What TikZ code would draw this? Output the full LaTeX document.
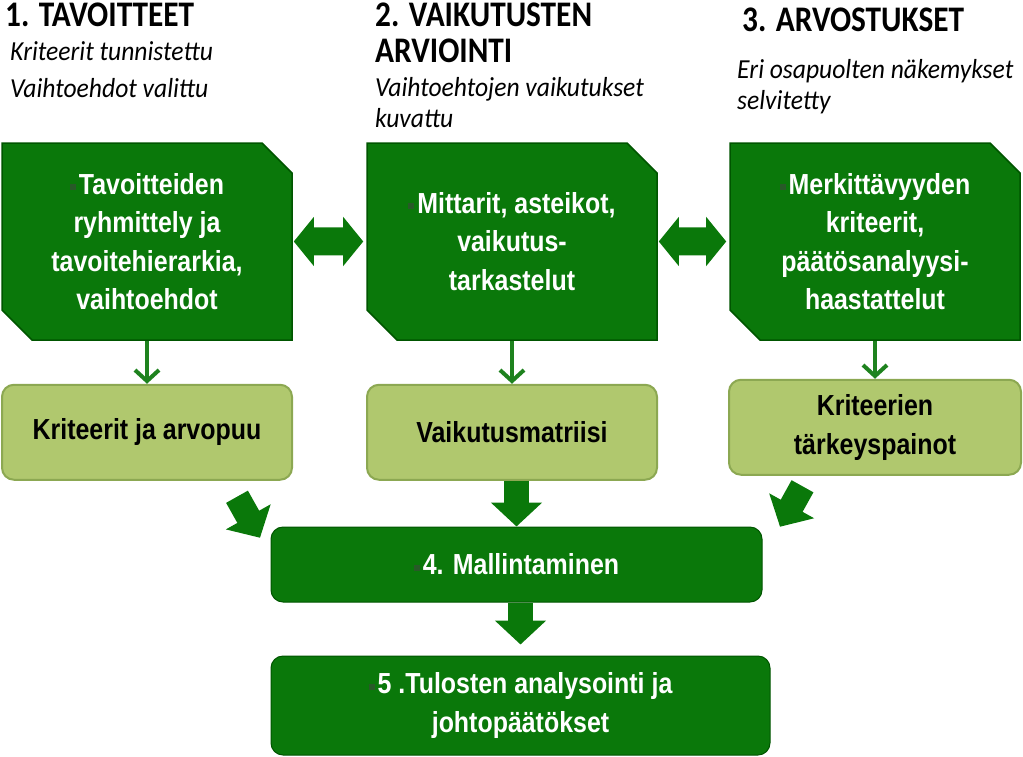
\documentclass[tikz,border=0pt]{standalone}
\usepackage{fontspec}
\setmainfont{Liberation Sans}
\newfontfamily\headfont[FakeStretch=0.87]{Carlito}
\newfontfamily\notefont[FakeStretch=0.93]{Carlito}
\newfontfamily\boxfont[FakeStretch=0.86]{Liberation Sans}
\usetikzlibrary{shapes.misc,arrows.meta,positioning,calc}
\definecolor{fingreen}{RGB}{10,120,10}
\definecolor{fingreendark}{RGB}{0,85,0}
\definecolor{finlight}{RGB}{176,200,110}
\definecolor{finlightdark}{RGB}{140,168,82}
\definecolor{arrowgreen}{RGB}{30,130,30}
\definecolor{dotgreen}{RGB}{40,90,40}
\newcommand{\bulletsq}{{\color{dotgreen}\rule[4pt]{6pt}{6pt}}\hspace{3pt}}

\begin{document}
\begin{tikzpicture}[x=1pt, y=-1pt,
    phase/.style={chamfered rectangle, chamfered rectangle corners={north east, south west},
        chamfered rectangle xsep=15pt, chamfered rectangle ysep=15pt,
        draw=fingreendark, line width=1.5pt, fill=fingreen, text=white,
        minimum width=290pt, minimum height=197pt, align=center, inner sep=0pt,
        font=\boxfont\bfseries\fontsize{29}{38.5}\selectfont},
    outcome/.style={rectangle, rounded corners=12pt, draw=finlightdark, line width=2pt,
        fill=finlight, minimum width=290pt, minimum height=95pt, align=center,
        font=\boxfont\bfseries\fontsize{29}{38.5}\selectfont},
    stage/.style={rectangle, rounded corners=12pt, draw=fingreendark, line width=1pt,
        fill=fingreen, text=white, align=center,
        font=\boxfont\bfseries\fontsize{29}{38.5}\selectfont},
    head/.style={anchor=north west, inner sep=0pt, align=left,
        font=\headfont\bfseries\fontsize{36}{36}\selectfont},
    note/.style={anchor=north west, inner sep=0pt, align=left,
        font=\notefont\itshape\fontsize{27.5}{37}\selectfont},
    arr/.style={-{Straight Barb[length=11pt,width=24pt]}, line width=4pt, arrowgreen},
    fat/.style={-{Triangle[length=24pt,width=50pt]}, line width=25pt, fingreen},
    fatboth/.style={{Triangle[length=20pt,width=48pt]}-{Triangle[length=20pt,width=48pt]},
        line width=28pt, fingreen}
]
    \useasboundingbox (0,0) rectangle (1023,756);

    % Headings
    \node[head] (h1) at (5,3) {1. TAVOITTEET};
    \node[head] (h2) at (375,3) {2. VAIKUTUSTEN\\ARVIOINTI};
    \node[head] (h3) at (742,8) {3. ARVOSTUKSET};
    \node[note] (n1) at (10,41) {Kriteerit tunnistettu\\Vaihtoehdot valittu};
    \node[note, font=\notefont\itshape\fontsize{27.5}{31}\selectfont] (n2) at (375,77)
        {Vaihtoehtojen vaikutukset\\kuvattu};
    \node[note, font=\notefont\itshape\fontsize{27.5}{31}\selectfont] (n3) at (737,59)
        {Eri osapuolten näkemykset\\selvitetty};

    % Phase boxes
    \node[phase] (tav) at (147,241.5)
        {\bulletsq Tavoitteiden\\ryhmittely ja\\tavoitehierarkia,\\vaihtoehdot};
    \node[phase] (vai) at (512,241.5)
        {\bulletsq Mittarit, asteikot,\\vaikutus-\\tarkastelut};
    \node[phase] (arv) at (875,241.5)
        {\bulletsq Merkittävyyden\\kriteerit,\\päätösanalyysi-\\haastattelut};

    % Outcomes
    \node[outcome, below=43pt of tav] (puu) {Kriteerit ja arvopuu};
    \node[outcome, below=43pt of vai] (mat) {Vaikutusmatriisi};
    \node[outcome, below=38pt of arv, minimum width=292pt] (pai) {Kriteerien\\tärkeyspainot};

    % Modelling and results
    \node[stage, minimum width=491pt, minimum height=75pt] (mal) at (516.5,564.5)
        {\bulletsq 4. Mallintaminen};
    \node[stage, minimum width=499pt, minimum height=99pt] (tul) at (520.5,705.5)
        {\bulletsq 5 .Tulosten analysointi ja\\johtopäätökset};

    % Links between phases
    \draw[fatboth, shorten >=3pt, shorten <=1pt] (tav) -- (vai);
    \draw[fatboth, shorten >=3pt, shorten <=1pt] (vai) -- (arv);

    % Phase to outcome
    \draw[arr] (tav.south) -- (puu.north);
    \draw[arr] (vai.south) -- (mat.north);
    \draw[arr] (arv.south) -- (pai.north);

    % Outcomes into modelling
    \coordinate (d1s) at ($(puu.south east)+(-56,16)$);
    \coordinate (d1e) at ($(puu.south east)+(-33,57)$);
    \coordinate (d3s) at ($(pai.south west)+(74.5,10.5)$);
    \coordinate (d3e) at ($(pai.south west)+(52,51)$);
    \draw[fat] (d1s) -- (d1e);
    \draw[fat] (d3s) -- (d3e);
    \draw[fat] (mat.south -| mal.north) -- (mal.north);
    \draw[fat, shorten >=11pt] (mal.south -| tul.north) -- (tul.north);
\end{tikzpicture}
\end{document}
